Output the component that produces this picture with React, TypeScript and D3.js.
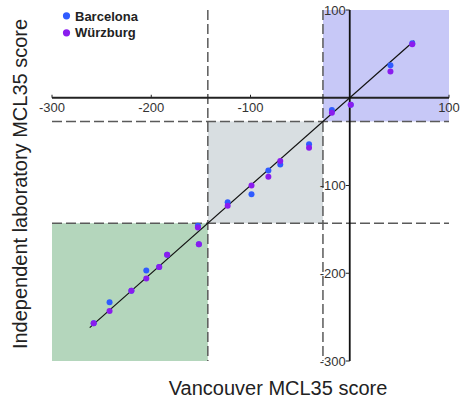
import React from "react";
import * as d3 from "d3";

// Vancouver MCL35 score per sample and the score re-measured by each laboratory
const vancouver = [63, 41, 1, -18, -41, -70, -82, -99, -123, -153, -152, -184, -192, -205, -220, -242, -258];
const barcelona = [62, 37, -8, -14, -53, -76, -83, -110, -119, -146, -167, -179, -193, -197, -220, -233, -257];
const wurzburg = [61, 30, -8, -17, -57, -72, -90, -100, -123, -148, -167, -179, -193, -206, -220, -243, -257];

const labs = ["Barcelona", "Würzburg"];
const labColors = ["#2f5bff", "#8a1cee"];

const xTicks = [-300, -200, -100, 100];
const yTicks = [100, -100, -200, -300];

// risk-group cut-offs and identity-line extent
const cutoffs = [-143, -27];
const domainMin = -300;
const domainMax = 100;
const identity = [-262, 65];

const W = 462;
const H = 400;
const font = "'Liberation Sans', Arial, Helvetica, sans-serif";

export default function App() {
  const x = d3.scaleLinear().domain([domainMin, domainMax]).range([52, 449]);
  const y = d3.scaleLinear().domain([domainMin, domainMax]).range([361, 10]);

  const [low, high] = cutoffs;
  const zones = [
    { x0: high, x1: domainMax, y0: high, y1: domainMax, fill: "#c7c8f7" },
    { x0: low, x1: high, y0: low, y1: high, fill: "#d8dee1" },
    { x0: domainMin, x1: low, y0: domainMin, y1: low, fill: "#b4d6bc" },
  ];

  const series = [barcelona, wurzburg];
  const line = d3.line<number>().x((v) => x(v)).y((v) => y(v));

  return (
    <svg
      width={W}
      height={H}
      style={{ position: "absolute", left: 0, top: 0, background: "#fff" }}
      fontFamily={font}
    >
      {zones.map((z, i) => (
        <rect
          key={i}
          x={x(z.x0)}
          y={y(z.y1)}
          width={x(z.x1) - x(z.x0)}
          height={y(z.y0) - y(z.y1)}
          fill={z.fill}
        />
      ))}

      {cutoffs.map((c, i) => (
        <g key={i} stroke="#5a5a5a" strokeWidth={1.5} strokeDasharray="10,4" fill="none">
          <line x1={x(c)} x2={x(c)} y1={y(domainMax)} y2={y(domainMin)} />
          <line x1={x(domainMin)} x2={x(domainMax)} y1={y(c)} y2={y(c)} />
        </g>
      ))}

      {/* x axis through y = 0 */}
      <line x1={x(domainMin)} x2={x(domainMax)} y1={y(0)} y2={y(0)} stroke="#222" strokeWidth={1.8} />
      {xTicks.map((t) => (
        <g key={t}>
          <line x1={x(t)} x2={x(t)} y1={y(0)} y2={y(0) - 3} stroke="#222" strokeWidth={1} />
          <text x={x(t)} y={y(0) + 14} textAnchor="middle" fontSize={13} fill="#333">
            {t}
          </text>
        </g>
      ))}

      {/* y axis through x = 0 */}
      <line x1={x(0)} x2={x(0)} y1={y(domainMax)} y2={y(domainMin)} stroke="#111" strokeWidth={1.8} />
      {yTicks.map((t) => (
        <g key={t}>
          <line x1={x(0) - 4} x2={x(0)} y1={y(t)} y2={y(t)} stroke="#222" strokeWidth={1} />
          <text x={x(0) - 4} y={y(t)} dy="0.35em" textAnchor="end" fontSize={13} fill="#333">
            {t}
          </text>
        </g>
      ))}

      <path d={line(identity) ?? ""} stroke="#111" strokeWidth={1.2} fill="none" />

      {series.map((vals, s) => (
        <g key={s} fill={labColors[s]}>
          {vals.map((v, i) => (
            <circle key={i} cx={x(vancouver[i])} cy={y(v)} r={3} />
          ))}
        </g>
      ))}

      {labs.map((name, i) => (
        <g key={name}>
          <circle cx={66.5} cy={15.8 + i * 17} r={3.6} fill={labColors[i]} />
          <text x={75} y={20.5 + i * 16.5} fontSize={13} fontWeight="bold" fill="#222">
            {name}
          </text>
        </g>
      ))}

      <text x={278} y={395} textAnchor="middle" fontSize={20} fill="#222">
        Vancouver MCL35 score
      </text>
      <text
        transform={`translate(26.5, 184) rotate(-90)`}
        textAnchor="middle"
        fontSize={20}
        fill="#222"
      >
        Independent laboratory MCL35 score
      </text>
    </svg>
  );
}
